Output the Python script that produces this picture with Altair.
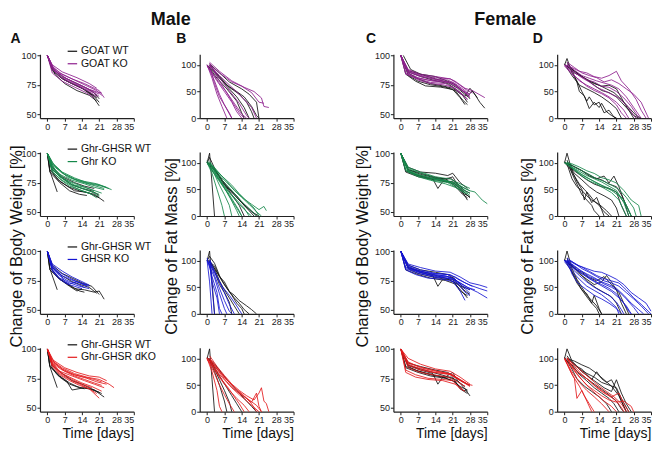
import altair as alt
import pandas as pd

FONT = "Liberation Sans"
DAY_TICKS = [0, 7, 14, 21, 28, 35]
BW_TICKS = [50, 75, 100]
FM_TICKS = [0, 50, 100]

ROW_LABELS = [("GOAT WT", "GOAT KO"), ("Ghr-GHSR WT", "Ghr KO"),
              ("Ghr-GHSR WT", "GHSR KO"), ("Ghr-GHSR WT", "Ghr-GHSR dKO")]
ROW_COLORS = ["#8e1f8e", "#15884a", "#1414d2", "#e31a1c"]
COL_LETTERS = ["A", "B", "C", "D"]
COL_YTITLES = ["Change of Body Weight [%]", "Change of Fat Mass [%]",
               "Change of Body Weight [%]", "Change of Fat Mass [%]"]

# ---- each line: day, value, day, value, ...
A1_wt = [[0,100, 2,88, 5,82, 9,77, 14,72, 18,66, 21,57],
         [0,100, 2,87, 6,80, 10,76, 15,71, 19,65, 21,60],
         [0,100, 3,86, 7,79, 12,74, 16,70, 20,64],
         [0,100, 2,89, 6,82, 11,77, 16,72, 19,68, 21,63],
         [0,100, 3,84, 7,76, 12,70, 17,66, 20,61]]
A1_ko = [[0,100, 2,91, 5,85, 10,80, 15,76, 19,72, 21,70, 23,64],
         [0,100, 2,90, 6,84, 11,79, 16,74, 20,70, 22,66],
         [0,100, 2,88, 5,82, 10,77, 15,72, 19,68, 21,65],
         [0,100, 3,86, 7,79, 12,74, 17,69, 20,65],
         [0,100, 2,85, 6,78, 11,73, 16,68, 19,64],
         [0,100, 2,92, 6,86, 12,81, 17,76, 20,72],
         [0,100, 3,87, 8,80, 13,75, 18,70, 21,67],
         [0,100, 2,89, 7,81, 12,76, 17,71, 20,69, 22,68]]
B1_wt = [[1,100, 4,82, 8,62, 12,50, 15,40, 18,22, 20,5, 21,0],
         [1,98, 5,78, 9,58, 13,45, 16,30, 18,12, 19,0],
         [0,100, 4,80, 8,60, 12,40, 15,20, 17,0],
         [1,102, 5,85, 9,68, 14,55, 17,45, 20,30, 21,0],
         [0,100, 4,75, 8,55, 12,32, 14,10, 15,0]]
B1_ko = [[1,105, 5,88, 10,70, 15,58, 19,50, 22,38, 23,22, 25,20],
         [1,100, 5,85, 10,68, 14,60, 18,48, 21,30, 23,28],
         [0,100, 3,70, 5,45, 7,25, 9,8, 10,0],
         [0,100, 2,75, 4,45, 6,22, 8,0],
         [1,100, 3,65, 5,40, 7,25, 9,10, 10,0],
         [1,103, 4,78, 7,55, 10,32, 13,10, 15,0],
         [0,100, 4,72, 8,48, 11,28, 14,8, 16,0],
         [1,100, 5,76, 9,52, 13,28, 16,5, 17,0],
         [0,98, 4,70, 7,50, 10,30, 12,12, 14,0],
         [1,100, 5,80, 10,58, 14,40, 18,20, 20,0]]
C1_wt = [[0,100, 3,85, 7,80, 12,76, 17,74, 21,72, 25,66, 27,60],
         [1,100, 4,88, 8,84, 14,80, 19,77, 23,72, 27,65, 29,70, 32,60, 34,55],
         [0,100, 3,83, 7,78, 12,75, 18,73, 22,70, 25,62, 27,58],
         [0,100, 3,86, 8,82, 13,79, 19,76, 23,70, 26,65, 28,72, 31,64],
         [0,100, 2,84, 6,78, 10,74, 16,73, 21,71, 24,64, 26,58],
         [0,100, 3,87, 8,84, 14,82, 19,78, 22,75, 26,68, 28,63]]
C1_ko = [[0,100, 3,88, 8,84, 14,82, 20,80, 22,78, 26,72, 29,70, 34,64],
         [0,100, 3,86, 8,82, 13,80, 19,79, 22,76, 26,70, 28,66],
         [0,100, 3,85, 7,81, 13,78, 19,77, 22,74, 26,68, 28,64],
         [0,100, 2,84, 7,80, 12,77, 18,76, 22,72, 25,67, 27,62],
         [0,100, 3,87, 8,83, 14,81, 20,80, 23,76, 27,70, 29,68],
         [0,100, 3,84, 7,79, 12,76, 17,75, 21,73, 25,66, 27,63],
         [0,100, 3,86, 9,82, 15,79, 21,77, 24,72, 28,65],
         [0,100, 2,85, 6,81, 11,79, 17,78, 21,76, 25,70, 28,67]]
D1_wt = [[0,100, 1,112, 3,85, 5,70, 7,50, 9,32, 10,40, 12,25, 14,30, 16,10, 18,15, 20,2, 21,0],
         [1,105, 3,90, 5,68, 6,50, 8,42, 10,18, 12,30, 14,20, 15,28, 17,12, 19,5, 21,0],
         [0,100, 3,92, 6,82, 9,72, 12,62, 15,52, 18,48, 21,40, 23,30, 26,15, 28,5, 30,0],
         [1,100, 4,88, 8,75, 12,65, 15,60, 18,62, 21,55, 24,30, 26,15, 28,0],
         [0,102, 3,80, 6,62, 9,55, 12,48, 15,40, 18,30, 21,18, 23,0],
         [1,98, 4,85, 7,78, 11,68, 14,62, 17,55, 20,48, 23,35, 26,20, 29,5, 31,0]]
D1_ko = [[0,100, 3,95, 6,88, 9,85, 12,78, 15,75, 18,80, 21,88, 23,70, 26,55, 29,35, 31,15, 33,0],
         [1,105, 4,95, 7,85, 10,80, 13,76, 16,68, 19,72, 22,65, 25,55, 28,45, 31,30, 34,0],
         [0,100, 3,88, 6,80, 9,72, 12,68, 15,60, 18,58, 21,50, 24,38, 27,22, 29,8, 30,0],
         [1,100, 4,86, 7,76, 10,68, 13,58, 16,52, 19,45, 22,38, 25,25, 28,5, 29,0],
         [0,100, 3,85, 6,70, 9,62, 12,55, 15,48, 18,40, 21,30, 24,15, 26,0],
         [1,102, 4,90, 7,80, 10,75, 13,70, 16,66, 19,62, 22,55, 25,40, 28,20, 31,0],
         [0,98, 3,82, 6,72, 9,60, 12,52, 15,46, 18,38, 21,25, 23,10, 25,0]]

A2_wt = [[0,100, 1,85, 4,67],
         [0,100, 1,86, 4,78, 8,72, 11,68, 15,67, 19,65, 23,59],
         [0,100, 2,84, 5,76, 9,71, 13,68, 17,66, 21,62],
         [0,100, 2,86, 6,79, 10,73, 14,70, 18,68, 21,64],
         [0,100, 1,84, 5,75, 9,68, 13,65, 16,64],
         [0,100, 2,88, 6,80, 11,75, 15,72, 19,70]]
A2_ko = [[0,100, 2,92, 6,84, 11,79, 16,75, 21,73, 26,69],
         [0,100, 2,90, 6,83, 11,78, 15,76, 20,74, 24,71],
         [0,100, 2,89, 5,82, 10,77, 15,74, 19,71, 23,69],
         [0,100, 2,88, 5,80, 9,76, 14,72, 18,69, 22,66],
         [0,100, 2,87, 5,80, 9,74, 13,71, 17,68, 21,65],
         [0,100, 2,86, 6,79, 10,73, 14,70, 18,67, 21,63],
         [0,100, 2,85, 5,78, 9,72, 13,69, 17,66, 20,62],
         [0,100, 3,86, 7,78, 11,73, 15,71, 19,68],
         [0,100, 2,91, 7,82, 12,77, 17,74, 22,72, 25,70],
         [0,100, 2,84, 6,77, 10,72, 14,68, 18,65],
         [0,100, 3,89, 8,80, 13,76, 18,73, 23,70]]
B2_wt = [[0,100, 1,118, 2,60, 3,0],
         [0,100, 1,110, 4,80, 7,58, 10,45, 13,30, 16,18, 19,5, 20,0],
         [0,100, 2,92, 5,75, 8,55, 11,40, 14,25, 17,10, 19,0],
         [1,100, 4,82, 7,60, 10,40, 13,20, 15,0],
         [0,102, 3,85, 6,68, 9,52, 12,38, 15,20, 18,8, 21,0]]
B2_ko = [[0,100, 2,80, 4,50, 6,20, 7,0],
         [1,100, 4,78, 7,55, 10,38, 13,22, 16,8, 18,0],
         [0,104, 3,88, 6,72, 9,58, 12,45, 15,32, 18,22, 21,12, 23,18, 24,10],
         [0,100, 3,80, 6,60, 9,40, 11,25, 13,10, 14,0],
         [1,100, 4,75, 7,52, 10,30, 12,15, 14,0],
         [0,100, 3,82, 6,62, 9,45, 12,30, 15,15, 17,0],
         [1,98, 4,80, 7,62, 10,48, 13,32, 16,18, 19,5, 20,0],
         [0,100, 2,85, 5,65, 8,45, 10,28, 12,10, 13,0],
         [1,102, 4,85, 8,65, 11,48, 14,35, 17,22, 20,8, 22,0],
         [0,100, 3,78, 5,58, 7,40, 9,20, 10,0],
         [0,100, 3,90, 6,75, 10,58, 13,42, 16,28, 19,15, 21,0]]
C2_wt = [[0,100, 3,86, 8,82, 14,79, 18,77, 21,80, 23,73, 26,66, 28,62],
         [0,100, 3,85, 7,81, 13,78, 15,70, 17,76, 21,76, 24,70, 27,60],
         [0,100, 2,84, 7,80, 12,78, 18,76, 22,74, 25,66, 28,63],
         [0,100, 3,88, 8,84, 14,83, 19,81, 21,83, 24,75, 27,70],
         [0,100, 3,86, 8,83, 13,80, 18,78, 22,72, 25,65, 27,62],
         [0,100, 2,85, 7,81, 12,79, 16,78, 20,79, 23,74, 26,68, 28,66]]
C2_ko = [[0,100, 3,87, 8,83, 14,79, 20,76, 24,72, 28,68, 30,67, 33,60, 35,57],
         [0,100, 3,86, 7,82, 13,78, 19,76, 23,72, 27,67, 28,66],
         [0,100, 2,85, 7,80, 12,77, 18,74, 22,71, 26,66],
         [0,100, 3,84, 8,80, 13,77, 19,75, 23,70, 27,65],
         [0,100, 3,88, 8,84, 14,80, 20,78, 24,74, 28,70],
         [0,100, 2,86, 6,82, 12,79, 17,77, 22,75, 26,70, 28,68],
         [0,100, 3,85, 8,81, 14,78, 20,75, 25,69, 28,64]]
D2_wt = [[0,100, 1,118, 3,85, 5,65, 7,50, 8,30, 9,45, 11,25, 13,35, 15,12, 16,0],
         [1,105, 3,80, 5,60, 7,40, 9,30, 11,20, 12,10, 14,0],
         [0,100, 2,90, 4,75, 6,60, 8,50, 10,40, 12,28, 14,20, 16,8, 18,0],
         [1,100, 4,92, 7,85, 10,75, 13,70, 16,75, 18,62, 20,75, 22,55, 24,30, 26,0],
         [0,102, 3,88, 6,78, 9,68, 12,60, 15,55, 18,52, 21,45, 23,20, 25,0],
         [1,100, 4,80, 7,68, 10,55, 13,45, 16,38, 19,30, 21,15, 22,0],
         [0,100, 3,95, 6,88, 9,80, 12,72, 15,68, 18,60, 21,55, 23,40, 25,20, 27,0],
         [1,98, 3,70, 5,55, 7,48, 9,38, 11,30, 14,22, 17,10, 19,0]]
D2_ko = [[0,100, 3,98, 6,92, 9,85, 12,80, 15,72, 18,68, 21,62, 24,48, 27,30, 30,20, 31,0],
         [1,102, 4,92, 7,85, 10,78, 13,70, 16,65, 19,58, 22,50, 25,35, 28,15, 29,0],
         [0,100, 3,90, 6,80, 9,72, 12,65, 15,58, 18,52, 21,45, 24,30, 26,10, 27,0],
         [1,100, 4,88, 7,78, 10,70, 13,62, 16,55, 19,48, 22,38, 25,20, 27,0],
         [0,100, 3,92, 6,84, 9,76, 12,70, 15,64, 18,56, 21,48, 24,25, 26,0],
         [1,98, 4,86, 7,75, 10,66, 13,60, 16,52, 19,44, 22,30, 24,10, 25,0]]

A3_wt = [[0,100, 1,85, 4,67],
         [0,100, 1,86, 4,78, 8,72, 11,68, 15,67, 19,65, 21,66, 23,59],
         [0,100, 2,84, 5,76, 9,71, 13,66, 15,65],
         [0,100, 2,86, 6,79, 10,74, 14,71, 17,69, 20,64],
         [0,100, 1,84, 5,76, 9,70, 12,66, 14,68],
         [0,100, 2,88, 6,81, 10,77, 14,73, 18,70, 21,63]]
A3_ko = [[0,100, 2,88, 5,82, 9,77, 13,73, 17,70],
         [0,100, 2,86, 5,80, 9,76, 13,73, 16,70],
         [0,100, 2,85, 5,79, 8,75, 12,72, 15,69],
         [0,100, 2,84, 5,77, 9,73, 13,70, 17,68],
         [0,100, 2,87, 5,81, 7,74, 9,72, 12,74, 16,71],
         [0,100, 2,83, 5,76, 8,72, 11,70, 14,68],
         [0,100, 2,89, 6,83, 10,78, 14,74, 17,71]]
B3_wt = [[0,100, 1,118, 2,60, 3,0],
         [0,100, 1,108, 3,95, 5,72, 7,55, 9,42, 11,35, 13,25, 16,15, 18,8, 20,0],
         [1,100, 3,85, 5,62, 7,45, 9,30, 11,15, 13,0],
         [0,102, 3,90, 5,70, 7,60, 9,42, 11,30, 13,20, 15,8, 17,0],
         [1,98, 3,80, 5,55, 7,40, 9,22, 10,0],
         [0,100, 2,92, 4,78, 6,62, 8,48, 10,35, 12,20, 14,10, 15,0]]
B3_ko = [[0,100, 1,60, 2,0],
         [1,100, 2,50, 3,0],
         [0,105, 2,70, 4,40, 5,10, 6,0],
         [1,100, 3,72, 5,48, 7,25, 9,5, 10,0],
         [0,100, 3,78, 6,52, 9,35, 12,15, 14,0],
         [1,98, 2,60, 4,30, 5,0],
         [0,100, 3,68, 5,38, 7,10, 8,0],
         [1,102, 4,70, 7,40, 9,18, 11,0]]
C3_wt = [[0,100, 3,86, 8,82, 13,79, 15,70, 17,76, 21,76, 24,66, 27,62],
         [0,100, 3,85, 7,81, 13,78, 18,76, 21,78, 23,72, 26,66, 28,63],
         [0,100, 2,84, 7,80, 12,77, 18,75, 22,72, 25,65, 27,60],
         [0,100, 3,88, 8,84, 14,82, 19,80, 22,76, 25,70, 28,67],
         [0,100, 3,86, 8,83, 13,80, 18,77, 22,73, 26,68]]
C3_ko = [[0,100, 3,88, 8,84, 14,81, 20,80, 24,75, 28,71, 32,68, 35,66],
         [0,100, 3,87, 8,83, 14,80, 20,78, 24,73, 28,68, 31,65, 35,60],
         [0,100, 3,89, 8,86, 14,83, 20,82, 24,78, 28,73, 32,71, 35,69],
         [0,100, 2,85, 7,81, 13,78, 19,77, 23,72, 26,65, 28,62],
         [0,100, 3,86, 7,82, 12,80, 18,79, 22,76, 25,70, 28,67],
         [0,100, 2,84, 6,80, 11,77, 17,76, 21,74, 24,66, 26,58],
         [0,100, 3,87, 8,82, 13,79, 19,78, 23,74, 27,69, 30,67],
         [0,100, 2,86, 7,83, 13,81, 19,80, 22,78, 26,73, 29,70],
         [0,100, 3,85, 9,81, 15,78, 21,76, 25,70, 28,64]]
D3_wt = [[0,100, 1,118, 3,85, 5,65, 7,50, 9,35, 11,25, 13,15, 15,0],
         [1,105, 3,80, 5,62, 7,45, 9,38, 11,20, 12,35, 14,10, 15,0],
         [0,100, 3,90, 6,75, 9,65, 12,55, 15,60, 17,72, 19,60, 21,45, 23,20, 25,0],
         [1,100, 4,88, 7,72, 10,58, 13,48, 16,40, 19,32, 21,20, 23,0],
         [0,102, 3,78, 5,58, 7,45, 9,32, 11,20, 13,10, 14,0],
         [1,98, 4,85, 7,78, 10,68, 13,62, 16,70, 19,55, 22,40, 24,20, 26,0]]
D3_ko = [[0,100, 3,98, 6,90, 9,85, 12,80, 15,78, 18,72, 21,65, 24,55, 27,40, 30,30, 33,20, 35,5],
         [1,105, 4,95, 7,85, 10,78, 13,70, 16,62, 19,58, 22,52, 25,40, 28,28, 31,15, 34,0],
         [0,100, 3,92, 6,82, 9,75, 12,68, 15,60, 18,55, 21,48, 24,35, 27,20, 30,8, 32,0],
         [1,100, 4,86, 7,76, 10,66, 13,58, 16,50, 19,42, 22,30, 25,15, 27,0],
         [0,100, 3,85, 6,72, 9,60, 12,50, 15,42, 18,35, 21,22, 23,8, 24,0],
         [1,102, 4,94, 7,88, 10,80, 13,72, 16,66, 19,62, 22,58, 25,45, 28,30, 31,18, 35,0],
         [0,98, 3,80, 6,65, 9,52, 12,44, 15,36, 18,25, 21,12, 22,0],
         [1,100, 4,90, 7,80, 10,70, 13,64, 16,56, 19,50, 22,42, 25,28, 28,12, 30,0],
         [0,100, 3,88, 6,78, 9,70, 12,62, 15,55, 18,48, 21,38, 24,20, 26,5, 27,0],
         [1,100, 3,75, 5,60, 7,52, 9,45, 12,35, 15,28, 18,20, 21,10, 23,0]]

A4_wt = [[0,100, 1,85, 4,67],
         [0,100, 1,86, 4,78, 8,72, 10,65, 15,67, 19,65, 23,59],
         [0,100, 2,84, 5,76, 9,70, 13,67, 17,66, 21,63],
         [0,100, 2,86, 6,79, 10,73, 14,70, 18,66, 22,62],
         [0,100, 1,85, 5,77, 9,71, 12,68, 15,66]]
A4_ko = [[0,100, 2,90, 6,84, 11,79, 16,76, 21,74, 25,70, 27,67],
         [0,100, 2,89, 6,83, 11,78, 16,75, 20,72, 24,70],
         [0,100, 2,88, 5,81, 10,77, 15,73, 19,70, 23,67],
         [0,100, 2,87, 5,80, 9,76, 14,71, 18,68, 22,64],
         [0,100, 2,86, 5,79, 9,74, 13,70, 17,66, 21,58],
         [0,100, 2,88, 6,82, 11,78, 15,76, 19,74, 22,72],
         [0,100, 2,85, 5,78, 9,73, 13,69, 17,66, 20,62],
         [0,100, 3,88, 7,81, 11,77, 15,74, 19,71, 22,69],
         [0,100, 2,91, 7,84, 12,80, 17,77, 21,76, 24,73],
         [0,100, 2,86, 6,79, 10,74, 14,70, 18,67]]
B4_wt = [[0,100, 1,118, 2,60, 3,0],
         [0,100, 2,92, 4,75, 6,60, 8,45, 10,30, 12,15, 14,0],
         [1,100, 3,80, 5,60, 7,40, 9,18, 10,0],
         [0,102, 3,90, 6,72, 9,55, 12,40, 15,25, 18,10, 20,0],
         [1,98, 3,75, 5,50, 7,20, 8,0]]
B4_ko = [[0,100, 2,75, 4,40, 5,10, 6,0],
         [1,105, 4,85, 7,68, 10,52, 13,40, 16,30, 19,22, 21,35, 22,45, 23,20, 24,15, 25,0],
         [0,100, 3,82, 6,65, 9,50, 12,38, 15,28, 18,18, 20,35, 21,10, 22,0],
         [1,100, 4,80, 7,62, 10,45, 13,32, 16,20, 19,8, 21,0],
         [0,102, 3,85, 6,70, 9,55, 12,42, 15,30, 18,15, 20,0],
         [1,100, 3,78, 6,58, 9,40, 12,25, 15,12, 17,0],
         [0,98, 3,80, 6,60, 9,42, 11,28, 13,15, 15,0],
         [1,100, 4,82, 8,60, 11,45, 14,32, 17,22, 20,12, 22,0],
         [0,100, 3,72, 5,50, 7,32, 9,15, 11,0]]
C4_wt = [[0,100, 3,86, 8,82, 13,79, 15,70, 17,76, 21,76, 24,66, 27,62],
         [0,100, 3,85, 7,81, 13,78, 18,76, 21,80, 23,73, 26,66, 28,60],
         [0,100, 2,84, 7,80, 12,77, 18,75, 22,72, 25,65, 27,64],
         [0,100, 3,88, 8,85, 14,82, 19,80, 22,76, 25,72, 28,69],
         [0,100, 3,86, 8,83, 13,80, 18,77, 22,74, 26,68],
         [0,100, 2,85, 6,82, 12,78, 17,76, 21,73, 24,68, 27,65]]
C4_ko = [[0,100, 3,92, 8,87, 14,83, 20,81, 24,76, 28,70],
         [0,100, 3,89, 8,84, 14,81, 20,79, 24,74, 27,70, 29,69],
         [0,100, 3,84, 8,80, 13,78, 19,76, 23,72, 26,68],
         [0,100, 2,82, 6,78, 11,75, 17,74, 21,73, 24,66, 26,64],
         [0,100, 3,87, 8,83, 14,80, 20,78, 24,73, 28,69],
         [0,100, 2,80, 6,76, 11,74, 17,73, 22,70, 25,66],
         [0,100, 3,86, 8,82, 13,80, 19,79, 23,75, 27,70],
         [0,100, 3,88, 9,84, 15,81, 21,78, 25,72, 28,68]]
D4_wt = [[0,100, 1,118, 3,95, 5,85, 7,80, 9,70, 11,60, 13,75, 15,62, 17,55, 19,60, 21,42, 23,20, 25,0],
         [1,105, 3,92, 6,80, 9,72, 12,65, 15,55, 18,50, 21,45, 23,25, 26,0],
         [0,100, 3,88, 6,70, 9,58, 12,45, 15,35, 18,25, 20,15, 22,0],
         [1,100, 4,95, 7,88, 10,82, 13,72, 16,60, 19,48, 22,30, 24,10, 25,0],
         [0,102, 3,80, 5,62, 8,48, 11,38, 14,28, 17,15, 19,0],
         [1,98, 4,90, 7,75, 10,65, 13,55, 16,45, 19,38, 21,60, 23,35, 25,15, 27,0],
         [0,100, 3,85, 6,72, 9,62, 12,52, 15,42, 18,32, 21,20, 23,5, 24,0]]
D4_ko = [[0,100, 2,80, 4,62, 5,25, 7,40, 9,20, 11,0],
         [1,102, 4,85, 7,70, 10,58, 13,45, 16,35, 19,28, 22,35, 24,15, 26,0],
         [0,100, 3,82, 6,65, 9,50, 12,40, 15,30, 18,22, 21,18, 24,20, 27,10, 28,0],
         [1,100, 4,78, 7,60, 10,45, 13,32, 16,20, 19,10, 21,0],
         [0,98, 3,75, 6,55, 9,40, 12,28, 15,15, 17,5, 18,0],
         [1,100, 3,85, 6,72, 9,62, 12,50, 15,40, 18,30, 21,20, 23,8, 24,0],
         [0,100, 3,70, 6,48, 8,30, 10,15, 12,0],
         [1,100, 4,88, 8,72, 11,60, 14,48, 17,38, 20,28, 23,15, 25,0]]

PANEL_DATA = {
    ("A", 1): (A1_wt, A1_ko), ("B", 1): (B1_wt, B1_ko), ("C", 1): (C1_wt, C1_ko), ("D", 1): (D1_wt, D1_ko),
    ("A", 2): (A2_wt, A2_ko), ("B", 2): (B2_wt, B2_ko), ("C", 2): (C2_wt, C2_ko), ("D", 2): (D2_wt, D2_ko),
    ("A", 3): (A3_wt, A3_ko), ("B", 3): (B3_wt, B3_ko), ("C", 3): (C3_wt, C3_ko), ("D", 3): (D3_wt, D3_ko),
    ("A", 4): (A4_wt, A4_ko), ("B", 4): (B4_wt, B4_ko), ("C", 4): (C4_wt, C4_ko), ("D", 4): (D4_wt, D4_ko),
}

W, H = 94, 64
COL_WIDTH = {"A": 94, "B": 128, "C": 98, "D": 94}
LETTER_X = {"A": -25, "B": -19, "C": -23, "D": -20}
YTITLE_X = {"A": -23, "B": -28, "C": -31, "D": -30}


def to_df(wt, ko, wt_lab, ko_lab):
    recs = []
    for tag, lines, lab in (("w", wt, wt_lab), ("k", ko, ko_lab)):
        for i, ln in enumerate(lines):
            for d, v in zip(ln[0::2], ln[1::2]):
                recs.append({"day": d, "val": v, "line": f"{tag}{i}", "grp": lab})
    return pd.DataFrame(recs)


def panel(col, row):
    ci = COL_LETTERS.index(col)
    wt_lab, ko_lab = ROW_LABELS[row - 1]
    wt, ko = PANEL_DATA[(col, row)]
    df = to_df(wt, ko, wt_lab, ko_lab)
    weight = col in ("A", "C")

    xaxis_kw = dict(values=DAY_TICKS, title=None)
    if row == 4:
        xaxis_kw.update(title="Time [days]", titleX=58, titleY=22, titleFontSize=14,
                        titleFontWeight="normal", titleAlign="center", titleBaseline="middle")
    yaxis_kw = dict(values=BW_TICKS if weight else FM_TICKS, title=None)
    if row == 1:
        yaxis_kw.update(title=col, titleAngle=0, titleX=LETTER_X[col], titleY=-16,
                        titleFontSize=14, titleFontWeight="bold", titleAlign="center",
                        titleBaseline="middle")
    if row == 2:
        yaxis_kw.update(title=COL_YTITLES[ci], titleAngle=270, titleX=YTITLE_X[col], titleY=94,
                        titleFontSize=16.5, titleFontWeight="normal", titleAlign="center",
                        titleBaseline="middle")

    xscale_kw = dict(domain=[-3, 35], nice=False, zero=False)
    if COL_WIDTH[col] != W:
        xscale_kw["range"] = [0, W]
    x = alt.X("day:Q", scale=alt.Scale(**xscale_kw), axis=alt.Axis(**xaxis_kw))
    y = alt.Y("val:Q",
              scale=alt.Scale(domain=[46.5, 101] if weight else [0, 120], nice=False, zero=False),
              axis=alt.Axis(**yaxis_kw))
    if col == "A":
        legend = alt.Legend(title=None, orient="none", legendX=27, legendY=-8.5,
                            symbolType="stroke", symbolSize=90, symbolStrokeWidth=1.2,
                            labelFontSize=10.5, labelFont=FONT, labelColor="#111",
                            padding=0, rowPadding=1.5, labelOffset=3)
    else:
        legend = None
    color = alt.Color("grp:N", scale=alt.Scale(domain=[wt_lab, ko_lab],
                                               range=["#111111", ROW_COLORS[row - 1]]),
                      legend=legend)
    base = alt.Chart(df).mark_line(strokeWidth=0.85, clip=False).encode(
        x=x, y=y, color=color, detail="line:N")
    ch = alt.layer(
        base.transform_filter(alt.FieldEqualPredicate(field="grp", equal=wt_lab)),
        base.transform_filter(alt.FieldEqualPredicate(field="grp", equal=ko_lab)),
    ).properties(width=COL_WIDTH[col], height=H)
    if (col, row) == ("B", 1):
        ch = ch.properties(title=alt.TitleParams("Male", anchor="start", frame="group",
                                                 dx=-49, dy=20, fontSize=18, font=FONT,
                                                 fontWeight="bold", baseline="bottom"))
    if (col, row) == ("C", 1):
        ch = ch.properties(title=alt.TitleParams("Female", anchor="start", frame="group",
                                                 dx=81, dy=20, fontSize=18, font=FONT,
                                                 fontWeight="bold", baseline="bottom"))
    return ch


panels = [panel(c, r) for r in range(1, 5) for c in COL_LETTERS]

chart = alt.concat(*panels, columns=4, spacing={"row": 34, "column": 66}, bounds="flush"
).resolve_scale(color="independent", x="independent", y="independent"
).resolve_legend(color="independent"
).properties(padding={"left": 0, "top": 3, "right": 0, "bottom": 0}
).configure_view(stroke=None
).configure_axis(
    grid=False, domainColor="#222", domainWidth=1.2, tickColor="#222", tickSize=3,
    tickWidth=1, labelFont=FONT, labelFontSize=9, labelColor="#222", labelPadding=1,
    titleFont=FONT, titleColor="#111"
).configure_title(font=FONT, color="#111")

chart.save("out.html", embed_options={"renderer": "svg", "actions": False})
